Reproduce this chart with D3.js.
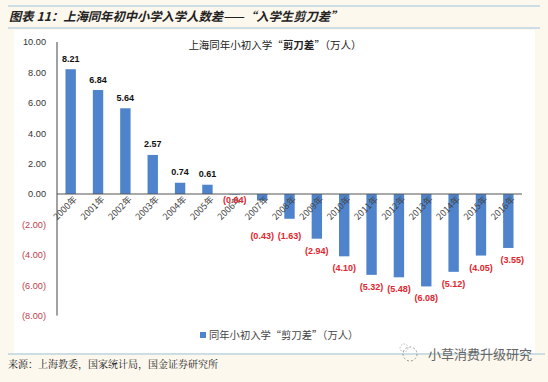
<!DOCTYPE html>
<html><head><meta charset="utf-8">
<script src="https://cdn.jsdelivr.net/npm/d3@7"></script>
<style>
body{margin:0;background:#fdf8ee;}
svg{display:block;font-family:Arial,"Liberation Sans","Noto Sans CJK SC",sans-serif;}
</style></head><body>
<svg id="c" width="548" height="382"></svg>
<script>
const categories = ["2000年","2001年","2002年","2003年","2004年","2005年","2006年","2007年","2008年","2009年","2010年","2011年","2012年","2013年","2014年","2015年","2016年"];
const values = [8.21,6.84,5.64,2.57,0.74,0.61,-0.04,-0.43,-1.63,-2.94,-4.10,-5.32,-5.48,-6.08,-5.12,-4.05,-3.55];
const yTicks = [10,8,6,4,2,0,-2,-4,-6,-8];
const seriesName = "同年小初入学\u201C剪刀差\u201D（万人）";

const svg = d3.select("#c");
const cjk = '"Noto Sans CJK SC",sans-serif';

svg.append("rect").attr("x",0).attr("y",0).attr("width",548).attr("height",382).attr("fill","#fdf8ee");
svg.append("rect").attr("x",14).attr("y",30).attr("width",521).attr("height",323).attr("fill","#ffffff");

svg.append("line").attr("x1",8).attr("x2",540).attr("y1",6).attr("y2",6).attr("stroke","#9cc3d8").attr("stroke-width",1.2);
svg.append("line").attr("x1",8).attr("x2",540).attr("y1",28).attr("y2",28).attr("stroke","#9cc3d8").attr("stroke-width",1.2);
svg.append("text").attr("x",9).attr("y",21).attr("font-size",12.3).attr("font-weight","bold").attr("font-style","italic")
  .attr("fill","#222").style("font-family",cjk)
  .text("图表 11：上海同年初中小学入学人数差——\u201C入学生剪刀差\u201D");

const x = d3.scaleBand().domain(categories).range([57,522]).paddingInner(0.62).paddingOuter(0.31);
const y = d3.scaleLinear().domain([-8,10]).range([315.6,42]);

const t = svg.append("text").attr("x",275).attr("y",49).attr("text-anchor","middle").attr("font-size",10.5).attr("fill","#222").style("font-family",cjk);
t.append("tspan").text("上海同年小初入学\u201C");
t.append("tspan").attr("font-weight","bold").text("剪刀差");
t.append("tspan").text("\u201D（万人）");

svg.selectAll("rect.bar").data(values).join("rect").attr("class","bar")
  .attr("x",(d,i)=>x(categories[i]))
  .attr("width",x.bandwidth())
  .attr("y",d=>y(Math.max(0,d)))
  .attr("height",d=>Math.abs(y(d)-y(0)))
  .attr("fill","#4f84cc");

const yAxis = d3.axisLeft(y).tickValues(yTicks).tickSize(0).tickPadding(11)
  .tickFormat(d=> d<0 ? "("+d3.format(".2f")(-d)+")" : d3.format(".2f")(d));
const ga = svg.append("g").attr("transform","translate(57,0)").call(yAxis);
ga.select(".domain").attr("stroke","#444").attr("d","M0,42V315.6");
ga.selectAll("text").attr("font-size",9.2).attr("fill",d=>d<0?"#c0404a":"#333").style("font-family","Arial,'Liberation Sans',sans-serif");

const xAxis = d3.axisBottom(x).tickSize(0).tickPadding(0);
const gx = svg.append("g").attr("transform",`translate(0,${y(0)})`).call(xAxis);
gx.select(".domain").attr("stroke","#555").attr("d","M57,0H522");
gx.selectAll("text").attr("font-size",9).attr("fill","#444").attr("text-anchor","end")
  .attr("dy",0).attr("transform","translate(7,6) rotate(-45)").style("font-family",cjk);

const fmt = d3.format(".2f");
svg.selectAll("text.lbl").data(values).join("text").attr("class","lbl")
  .attr("x",(d,i)=>x(categories[i])+x.bandwidth()/2 + (i===categories.length-1?4:0))
  .attr("y",d=>{
    if(d>=0) return y(d)-7.5;
    if(d>-0.1) return y(0)+9;
    return Math.max(y(d)+15, y(0)+45);
  })
  .attr("text-anchor","middle").attr("font-size",9).attr("font-weight","bold")
  .attr("fill",d=>d>=0?"#111":"#e0262e")
  .text(d=>d>=0?fmt(d):"("+fmt(-d)+")");

svg.append("rect").attr("x",200).attr("y",332).attr("width",6).attr("height",6).attr("fill","#4f84cc");
svg.append("text").attr("x",209).attr("y",338.5).attr("font-size",10.3).attr("fill","#444").style("font-family",cjk).text(seriesName);

svg.append("line").attr("x1",8).attr("x2",545).attr("y1",354).attr("y2",354).attr("stroke","#9cc3d8").attr("stroke-width",1.2);
svg.append("text").attr("x",8).attr("y",368).attr("font-size",10).attr("fill","#222").style("font-family",'"Noto Serif CJK SC","Noto Sans CJK SC",serif')
  .text("来源：上海教委，国家统计局，国金证券研究所");
const wm = svg.append("g").attr("transform","translate(410,354)");
wm.append("circle").attr("r",7).attr("fill","none").attr("stroke","#999").attr("stroke-width",1).attr("stroke-dasharray","2,2");
wm.append("circle").attr("cx",-6).attr("cy",-6).attr("r",4).attr("fill","none").attr("stroke","#aaa").attr("stroke-width",0.8).attr("stroke-dasharray","1.5,1.5");
svg.append("text").attr("x",428).attr("y",359).attr("font-size",13).attr("fill","#666").style("font-family",cjk).text("小草消费升级研究");
</script></body></html>
